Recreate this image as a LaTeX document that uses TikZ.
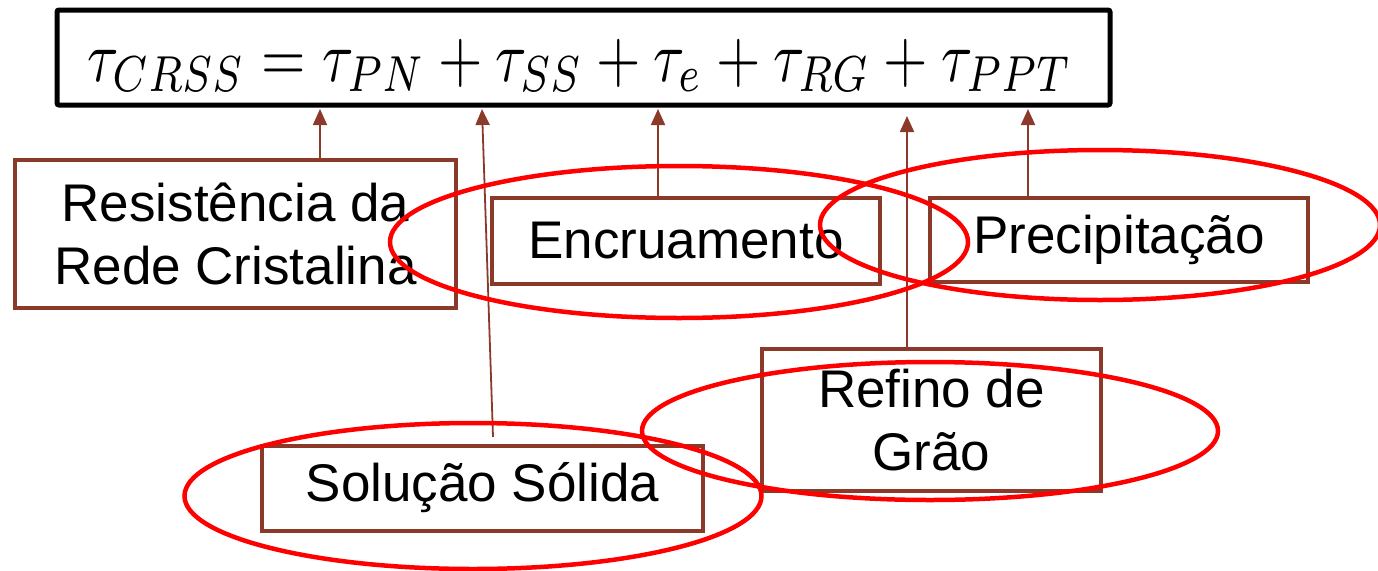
\documentclass[tikz,border=0pt]{standalone}
\usepackage{fontspec}
\setmainfont{Liberation Sans}
\usetikzlibrary{arrows.meta,shapes.geometric}
\definecolor{boxbrown}{RGB}{139,58,42}
\definecolor{ringred}{RGB}{255,0,0}
\tikzset{
  labelbox/.style={draw=boxbrown, line width=4pt, fill=white, align=center, inner sep=0pt,
    font=\fontsize{53}{63}\selectfont},
  ring/.style={draw=ringred, line width=4.5pt, shape=ellipse, inner sep=0pt},
  conn/.style={draw=boxbrown, line width=1.8pt, -{Triangle[width=14pt,length=16pt]}},
  eqbox/.style={draw=black, line width=5pt, rounded corners=2pt, inner sep=0pt}
}
\begin{document}
\begin{tikzpicture}[x=1pt,y=-1pt]
\useasboundingbox (0,0) rectangle (1378,570);
% equation box
\node[eqbox, minimum width=1053pt, minimum height=95pt] (eq) at (583.5,57.5) {};
\node[inner sep=0pt, anchor=base] (eqtext) at (580,81) {\resizebox*{985pt}{53pt}{%
  $\tau_{CRSS}=\tau_{PN}+\tau_{SS}+\tau_{e}+\tau_{RG}+\tau_{PPT}$}};
% label boxes
\node[labelbox, minimum width=441pt, minimum height=148pt] (res) at (235.5,234) {Resistência da\\Rede Cristalina};
\node[labelbox, minimum width=388pt, minimum height=86pt] (enc) at (686,241) {Encruamento};
\node[labelbox, minimum width=378pt, minimum height=84pt] (ppt) at (1119,240) {Precipitação};
\node[labelbox, minimum width=339pt, minimum height=142pt] (rg) at (931.5,420) {Refino de\\Grão};
\node[labelbox, minimum width=441pt, minimum height=85pt] (sol) at (482.5,488) {\raisebox{-4pt}{Solução Sólida}};
% arrow tips
\coordinate (tPN) at (320,109);
\coordinate (tSS) at (482,109);
\coordinate (tE) at (658,109);
\coordinate (tRG) at (907,116);
\coordinate (tPPT) at (1028,109);
\coordinate (sSS) at (493,437);
% connectors
\draw[conn] (res.north -| tPN) -- (tPN);
\draw[conn] (sSS) -- (tSS);
\draw[conn] (enc.north -| tE) -- (tE);
\draw[conn] (rg.north -| tRG) -- (tRG);
\draw[conn] (ppt.north -| tPPT) -- (tPPT);
% red rings
\node[ring, minimum width=578pt, minimum height=152pt] (r1) at (679,242) {};
\node[ring, minimum width=560pt, minimum height=150pt] (r2) at (1100,225) {};
\node[ring, minimum width=576pt, minimum height=138pt] (r3) at (930,431) {};
\node[ring, minimum width=577pt, minimum height=146pt] (r4) at (473,496) {};
\end{tikzpicture}
\end{document}
